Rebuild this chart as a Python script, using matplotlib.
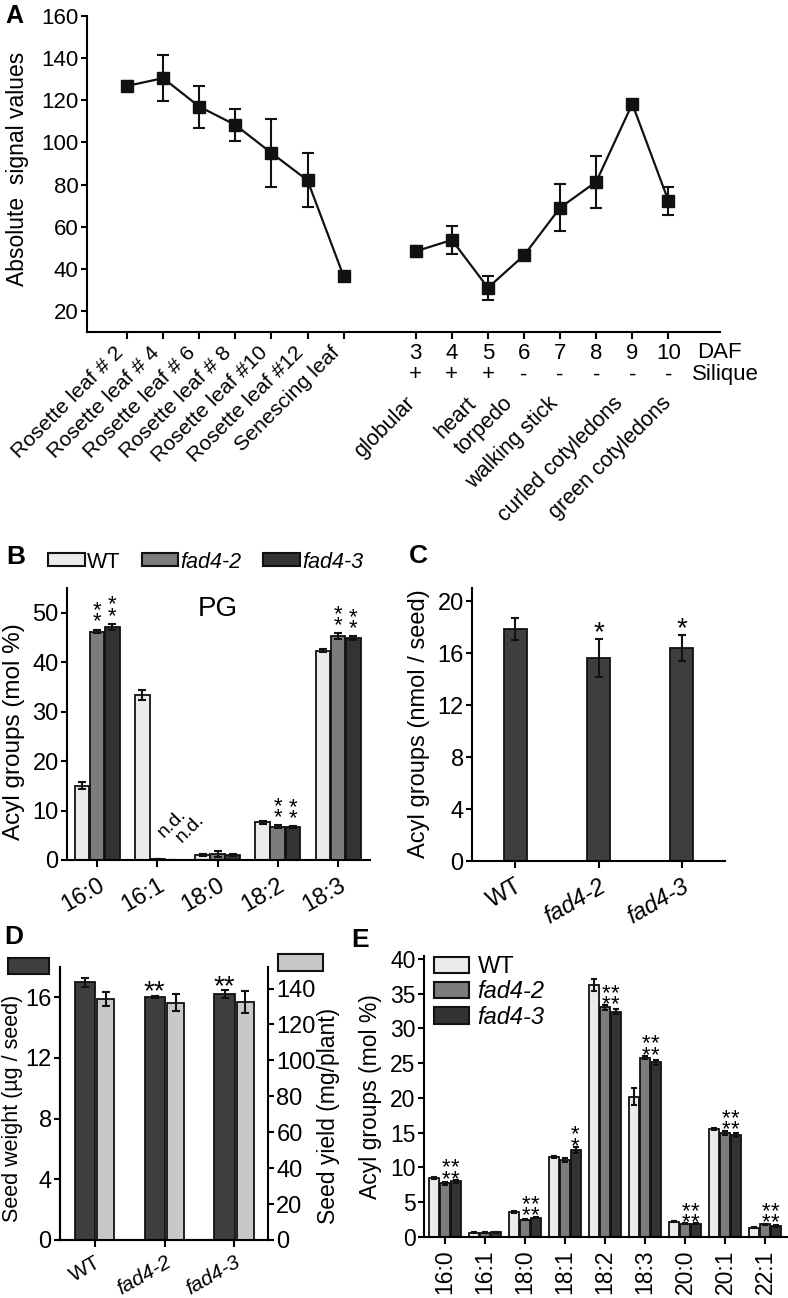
import matplotlib.pyplot as plt
import numpy as np
from matplotlib.patches import Patch
from matplotlib.transforms import blended_transform_factory

plt.rcParams['font.family'] = ['Liberation Sans', 'DejaVu Sans']
plt.rcParams['axes.linewidth'] = 1.5
plt.rcParams['xtick.major.width'] = 1.5
plt.rcParams['ytick.major.width'] = 1.5
plt.rcParams['xtick.major.size'] = 4
plt.rcParams['ytick.major.size'] = 4

# ---------------- data ----------------
# Panel A: absolute signal values
leaf_labels = ['Rosette leaf # 2', 'Rosette leaf # 4', 'Rosette leaf # 6', 'Rosette leaf # 8',
               'Rosette leaf #10', 'Rosette leaf #12', 'Senescing leaf']
leaf_signal = [126.8, 130.5, 117.0, 108.3, 95.0, 82.0, 36.5]
leaf_err = [2.5, 11.0, 10.0, 7.7, 16.0, 12.8, 1.5]
daf_labels = ['3', '4', '5', '6', '7', '8', '9', '10']
daf_signal = [48.3, 53.7, 31.0, 46.4, 69.0, 81.3, 118.3, 72.3]
daf_err = [2.5, 6.7, 5.8, 1.5, 11.2, 12.4, 2.0, 6.7]
silique = ['+', '+', '+', '-', '-', '-', '-', '-']
stage_labels = ['globular', 'heart', 'torpedo', 'walking stick',
                'curled cotyledons', 'green cotyledons']

# Panel B: PG acyl groups
genotypes = ['WT', 'fad4-2', 'fad4-3']
pg_acyl = ['16:0', '16:1', '18:0', '18:2', '18:3']
pg_wt = [15.0, 33.3, 1.1, 7.6, 42.3]
pg_wt_err = [0.7, 1.0, 0.2, 0.3, 0.3]
pg_fad42 = [46.2, 0.2, 1.3, 6.7, 45.2]
pg_fad42_err = [0.4, 0.0, 0.6, 0.3, 0.6]
pg_fad43 = [47.1, 0.0, 1.1, 6.6, 44.8]
pg_fad43_err = [0.6, 0.0, 0.2, 0.2, 0.4]
pg_sig42 = ['**', '', '', '**', '**']
pg_sig43 = ['**', '', '', '**', '**']
pg_nd = ['', 'n.d.', '', '', '']

# Panel C: seed acyl groups
seed_acyl = [17.85, 15.6, 16.4]
seed_acyl_err = [0.88, 1.45, 1.0]
seed_acyl_sig = ['', '*', '*']

# Panel D: seed weight and yield
seed_weight = [17.0, 16.02, 16.22]
seed_weight_err = [0.3, 0.08, 0.25]
seed_weight_sig = ['', '**', '**']
seed_yield = [134.3, 132.0, 132.4]
seed_yield_err = [3.9, 4.7, 6.0]

# Panel E: seed fatty acids
fa = ['16:0', '16:1', '18:0', '18:1', '18:2', '18:3', '20:0', '20:1', '22:1']
e_wt = [8.5, 0.6, 3.6, 11.5, 36.2, 20.2, 2.2, 15.5, 1.35]
e_wt_err = [0.1, 0.05, 0.15, 0.15, 0.9, 1.2, 0.1, 0.1, 0.1]
e_fad42 = [7.7, 0.6, 2.5, 11.1, 33.0, 25.8, 1.9, 15.0, 1.8]
e_fad42_err = [0.2, 0.05, 0.1, 0.3, 0.3, 0.2, 0.05, 0.3, 0.1]
e_fad43 = [8.0, 0.65, 2.8, 12.5, 32.4, 25.1, 1.9, 14.7, 1.6]
e_fad43_err = [0.2, 0.05, 0.1, 0.4, 0.4, 0.3, 0.05, 0.3, 0.1]
e_sig42 = ['**', '', '**', '', '**', '**', '**', '**', '**']
e_sig43 = ['**', '', '**', '**', '**', '**', '**', '**', '**']

# ---------------- style ----------------
c_wt, c_42, c_43 = '#ebebeb', '#7c7c7c', '#333333'
c_dark, c_light = '#3e3e3e', '#c8c8c8'
W, H = 788, 1298


def box(l, t, r, b):
    return [l / W, 1 - b / H, (r - l) / W, (b - t) / H]


def clean(ax, fs):
    ax.spines['top'].set_visible(False)
    ax.spines['right'].set_visible(False)
    ax.tick_params(direction='out', labelsize=fs, pad=2)


def stack(s):
    # '**' drawn as two stacked asterisks
    return '\n'.join(list(s))


def mark(ax, x, y, s, fs, off, ls=0.4):
    ax.annotate(s, (x, y), xytext=(0, off), textcoords='offset points',
                ha='center', va='bottom', fontsize=fs, linespacing=ls)


ekw = dict(elinewidth=1.5, capthick=1.5, ecolor='#111111')
fig = plt.figure(figsize=(W / 100, H / 100), dpi=100)

# ================= Panel A =================
axA = fig.add_axes(box(87, 16, 720, 332))
clean(axA, 16)
x_leaf = np.arange(len(leaf_labels))
x_daf = np.arange(len(daf_labels)) + len(leaf_labels) + 1
for xs, ys, es in [(x_leaf, leaf_signal, leaf_err), (x_daf, daf_signal, daf_err)]:
    axA.errorbar(xs, ys, yerr=es, fmt='s-', color='#111111', ms=8, lw=1.6,
                 capsize=4, **ekw)
axA.set_xlim(-1.11, 16.43)
axA.set_ylim(10, 160)
axA.set_yticks(np.arange(20, 161, 20))
axA.set_xticks(np.concatenate([x_leaf, x_daf]))
axA.set_xticklabels(leaf_labels + daf_labels)
axA.tick_params(axis='x', length=5, pad=3)
for lab in axA.get_xticklabels()[:len(leaf_labels)]:
    lab.set_rotation(45)
    lab.set_ha('right')
    lab.set_fontsize(15.3)
trA = blended_transform_factory(axA.transData, axA.transAxes)
axA.text(15.8, -0.066, 'DAF', transform=trA, ha='left', va='center', fontsize=16)
for xs, s in zip(x_daf, silique):
    axA.text(xs, -0.136, s, transform=trA, ha='center', va='center', fontsize=16)
axA.text(15.65, -0.136, 'Silique', transform=trA, ha='left', va='center', fontsize=16)
stage_x = [8.1, 9.8, 10.8, 12.05, 13.85, 15.2]
for xs, s in zip(stage_x, stage_labels):
    axA.text(xs, -0.193, s, transform=trA, rotation=45, ha='right', va='top', fontsize=15.5)
fig.text(18 / W, 1 - 169 / H, 'Absolute  signal values', rotation=90,
         ha='center', va='center', fontsize=16.5)
fig.text(5 / W, 1 - 16 / H, 'A', fontsize=18, fontweight='bold', ha='left', va='center')

# ================= Panel B =================
axB = fig.add_axes(box(67, 588, 370, 860))
clean(axB, 17)
xb = np.arange(len(pg_acyl))
wb = 0.245
series = [(pg_wt, pg_wt_err, c_wt, -0.25), (pg_fad42, pg_fad42_err, c_42, 0.0),
          (pg_fad43, pg_fad43_err, c_43, 0.25)]
for vals, errs, col, off in series:
    axB.bar(xb + off, vals, wb, yerr=errs, color=col, edgecolor='#111111', lw=1.3,
            capsize=3, error_kw=ekw)
for i in range(len(pg_acyl)):
    if pg_sig42[i]:
        mark(axB, xb[i], pg_fad42[i] + pg_fad42_err[i], stack(pg_sig42[i]), 16, -2)
    if pg_sig43[i]:
        mark(axB, xb[i] + 0.25, pg_fad43[i] + pg_fad43_err[i], stack(pg_sig43[i]), 16, -2)
    if pg_nd[i]:
        for off, y in [(-0.05, 3.8), (0.25, 2.8)]:
            axB.text(xb[i] + off, y, pg_nd[i], rotation=45, ha='left', va='bottom', fontsize=14)
axB.text(2.0, 50.7, 'PG', ha='center', va='center', fontsize=20)
axB.set_xlim(-0.5, 4.53)
axB.set_ylim(0, 55)
axB.set_yticks(np.arange(0, 51, 10))
axB.set_xticks(xb)
axB.set_xticklabels(pg_acyl, rotation=30, ha='right', rotation_mode='anchor')
axB.tick_params(axis='x', length=5, pad=5)
handles = [Patch(facecolor=c, edgecolor='#111111', lw=1.5) for c in (c_wt, c_42, c_43)]
legB = fig.legend(handles, genotypes, ncol=3, loc='center left',
                  bbox_to_anchor=(48 / W, 1 - 562 / H), frameon=False, fontsize=15.5,
                  handlelength=1.7, handleheight=0.55, handletextpad=0.1,
                  columnspacing=1.0, borderpad=0, borderaxespad=0)
for t in legB.get_texts()[1:]:
    t.set_style('italic')
fig.text(14 / W, 1 - 732 / H, 'Acyl groups (mol %)', rotation=90,
         ha='center', va='center', fontsize=17.5)
fig.text(6 / W, 1 - 557 / H, 'B', fontsize=19, fontweight='bold', ha='left', va='center')

# ================= Panel C =================
axC = fig.add_axes(box(472, 588, 725, 861))
clean(axC, 17)
xc = np.arange(len(genotypes))
axC.bar(xc, seed_acyl, 0.27, yerr=seed_acyl_err, color=c_dark, edgecolor='#111111',
        lw=1.3, capsize=3, error_kw=ekw)
for i, s in enumerate(seed_acyl_sig):
    if s:
        mark(axC, xc[i], seed_acyl[i] + seed_acyl_err[i], s, 20, -5)
axC.set_xlim(-0.52, 2.52)
axC.set_ylim(0, 21)
axC.set_yticks(np.arange(0, 21, 4))
axC.set_xticks(xc)
axC.set_xticklabels(genotypes, rotation=30, ha='right', rotation_mode='anchor')
axC.tick_params(axis='x', length=5, pad=5)
for t in axC.get_xticklabels()[1:]:
    t.set_style('italic')
fig.text(419 / W, 1 - 724 / H, 'Acyl groups (nmol / seed)', rotation=90,
         ha='center', va='center', fontsize=17)
fig.text(409 / W, 1 - 556 / H, 'C', fontsize=19, fontweight='bold', ha='left', va='center')

# ================= Panel D =================
axD = fig.add_axes(box(60, 967, 268, 1240))
clean(axD, 17)
xd = np.arange(len(genotypes))
axD.bar(xd - 0.143, seed_weight, 0.287, yerr=seed_weight_err, color=c_dark,
        edgecolor='#111111', lw=1.3, capsize=3, error_kw=ekw)
for i, s in enumerate(seed_weight_sig):
    if s:
        mark(axD, xd[i] - 0.143, seed_weight[i] + seed_weight_err[i], s, 20, -7)
axD.set_xlim(-0.5, 2.48)
axD.set_ylim(0, 18)
axD.set_yticks(np.arange(0, 17, 4))
axD2 = axD.twinx()
axD2.bar(xd + 0.155, seed_yield, 0.25, yerr=seed_yield_err, color=c_light,
         edgecolor='#111111', lw=1.3, capsize=3, error_kw=ekw)
axD2.set_ylim(0, 152)
axD2.set_yticks(np.arange(0, 141, 20))
axD2.spines['top'].set_visible(False)
axD2.tick_params(direction='out', labelsize=17, pad=2)
axD.set_xticks(xd)
axD.set_xticklabels(genotypes, rotation=30, ha='right', rotation_mode='anchor')
axD.tick_params(axis='x', length=5, pad=4, labelsize=15)
for t in axD.get_xticklabels()[1:]:
    t.set_style('italic')
fig.legend([Patch(facecolor=c_dark, edgecolor='#111111', lw=1.5)], [''], loc='upper left',
           bbox_to_anchor=(8 / W, 1 - 957 / H), frameon=False, fontsize=17,
           handlelength=1.75, handleheight=0.68, handletextpad=0, borderpad=0, borderaxespad=0)
fig.legend([Patch(facecolor=c_light, edgecolor='#111111', lw=1.5)], [''], loc='upper left',
           bbox_to_anchor=(278 / W, 1 - 954 / H), frameon=False, fontsize=17,
           handlelength=1.9, handleheight=0.72, handletextpad=0, borderpad=0, borderaxespad=0)
fig.text(13 / W, 1 - 1108 / H, 'Seed weight (µg / seed)', rotation=90,
         ha='center', va='center', fontsize=15.5)
fig.text(328 / W, 1 - 1116 / H, 'Seed yield (mg/plant)', rotation=90,
         ha='center', va='center', fontsize=16.5)
fig.text(4 / W, 1 - 937 / H, 'D', fontsize=19, fontweight='bold', ha='left', va='center')

# ================= Panel E =================
axE = fig.add_axes(box(424, 956, 787, 1237))
clean(axE, 16.5)
xe = np.arange(len(fa))
we = 0.265
series = [(e_wt, e_wt_err, c_wt, -0.27), (e_fad42, e_fad42_err, c_42, 0.0),
          (e_fad43, e_fad43_err, c_43, 0.28)]
for vals, errs, col, off in series:
    axE.bar(xe + off, vals, we, yerr=errs, color=col, edgecolor='#111111', lw=1.3,
            capsize=2.5, error_kw=ekw)
for i in range(len(fa)):
    top = max(e_fad42[i] + e_fad42_err[i], e_fad43[i] + e_fad43_err[i])
    if e_sig42[i]:
        mark(axE, xe[i] + 0.03, top, stack(e_sig42[i]), 16, -7)
    if e_sig43[i]:
        mark(axE, xe[i] + 0.26, top, stack(e_sig43[i]), 16, -7)
axE.set_xlim(-0.52, 8.55)
axE.set_ylim(0, 40.4)
axE.set_yticks(np.arange(0, 41, 5))
axE.set_xticks(xe)
axE.set_xticklabels(fa, rotation=90)
axE.tick_params(axis='x', length=5, pad=4)
legE = axE.legend(handles, genotypes, loc='upper left', bbox_to_anchor=(434 / W, 1 - 956 / H),
                  bbox_transform=fig.transFigure, frameon=False, fontsize=17,
                  handlelength=1.5, handleheight=0.68, handletextpad=0.35,
                  labelspacing=0.1, borderpad=0, borderaxespad=0)
for t in legE.get_texts()[1:]:
    t.set_style('italic')
fig.text(371 / W, 1 - 1097 / H, 'Acyl groups (mol %)', rotation=90,
         ha='center', va='center', fontsize=16.5)
fig.text(351 / W, 1 - 940 / H, 'E', fontsize=19, fontweight='bold', ha='left', va='center')

plt.savefig('out.png', dpi=100)
